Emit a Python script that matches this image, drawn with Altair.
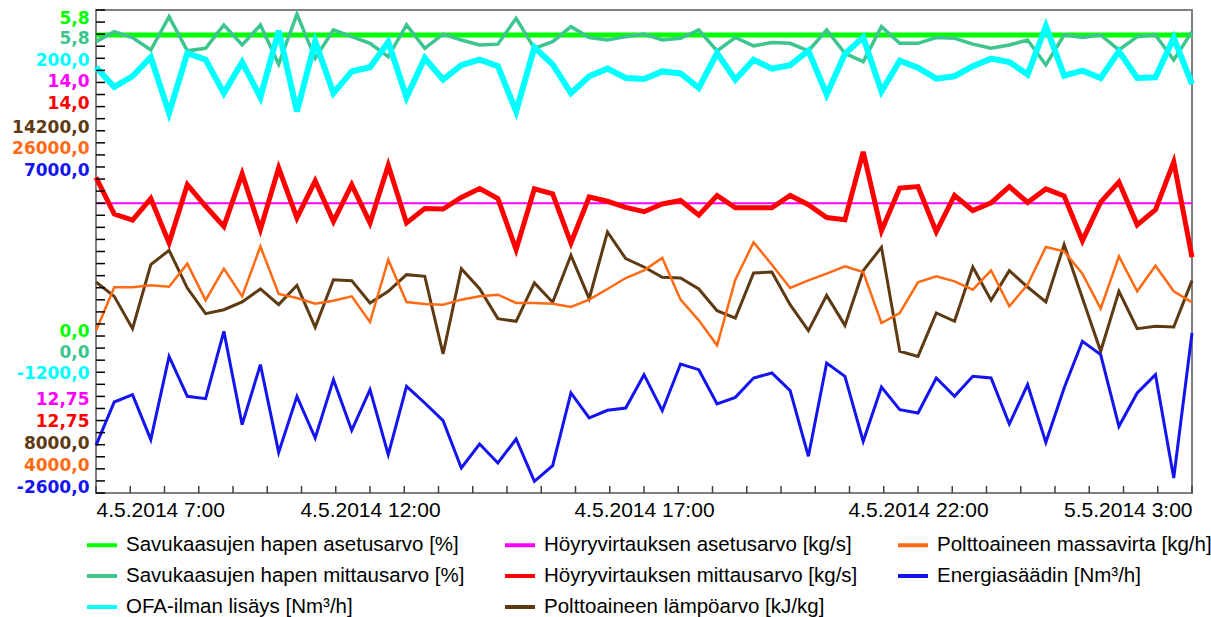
import altair as alt
import pandas as pd
from datetime import datetime, timedelta

# ---------------- data ----------------
START = datetime(2014, 5, 4, 7, 0)
END = datetime(2014, 5, 5, 3, 0)
N_POINTS = 61
STEP = timedelta(minutes=20)
TICK_STEP = timedelta(minutes=37, seconds=30)
N_TICKS = 33
N_Y_TICKS = 41

o2_setpoint = [5.5] * N_POINTS
o2_measured = [
    5.42, 5.54, 5.47, 5.32, 5.72, 5.31, 5.34, 5.62, 5.38, 5.62,
    5.15, 5.75, 5.22, 5.56, 5.48, 5.40, 5.24, 5.62, 5.34, 5.51,
    5.44, 5.38, 5.39, 5.70, 5.34, 5.42, 5.60, 5.47, 5.44, 5.48,
    5.51, 5.44, 5.46, 5.56, 5.31, 5.47, 5.37, 5.41, 5.40, 5.31,
    5.56, 5.28, 5.18, 5.60, 5.40, 5.40, 5.47, 5.46, 5.39, 5.34,
    5.38, 5.44, 5.14, 5.50, 5.47, 5.50, 5.32, 5.48, 5.50, 5.20,
    5.54]
ofa_air = [
    34, -23, 8, 63, -99, 75, 56, -41, 49, -53,
    140, -94, 109, -41, 22, 34, 107, -53, 61, -2,
    40, 56, 37, -94, 92, 42, -41, 8, 30, 3,
    0, 22, 16, -26, 75, -2, 56, 30, 40, 82,
    -45, 73, 121, -36, 53, 33, 1, 8, 37, 59,
    49, 13, 153, 10, 24, 3, 80, 3, 5, 119,
    -15]
steam_setpoint = [13.5] * N_POINTS
steam_measured = [
    13.567, 13.472, 13.456, 13.512, 13.397, 13.548, 13.492, 13.440, 13.576, 13.432,
    13.591, 13.462, 13.558, 13.453, 13.548, 13.449, 13.598, 13.449, 13.486, 13.485,
    13.515, 13.538, 13.512, 13.380, 13.537, 13.524, 13.397, 13.516, 13.505, 13.489,
    13.478, 13.498, 13.507, 13.469, 13.520, 13.488, 13.488, 13.488, 13.520, 13.496,
    13.463, 13.457, 13.633, 13.429, 13.539, 13.543, 13.426, 13.520, 13.481, 13.501,
    13.543, 13.502, 13.537, 13.519, 13.403, 13.503, 13.555, 13.444, 13.483, 13.607,
    13.360]
fuel_heat = [
    10708, 10524, 10109, 10931, 11115, 10631, 10302, 10353, 10452, 10619,
    10418, 10666, 10127, 10738, 10726, 10439, 10589, 10803, 10781, 9784,
    10880, 10623, 10238, 10204, 10696, 10448, 11051, 10495, 11350, 11008,
    10901, 10768, 10760, 10619, 10341, 10246, 10824, 10837, 10418, 10084,
    10537, 10152, 10854, 11154, 9819, 9754, 10311, 10204, 10901, 10473,
    10854, 10644, 10452, 11188, 10503, 9819, 10589, 10109, 10139, 10131,
    10726]
fuel_mass = [
    11394, 13368, 13368, 13459, 13398, 14446, 12776, 14218, 12958, 15235,
    13064, 12882, 12624, 12761, 12958, 11789, 14628, 12700, 12609, 12578,
    12806, 12958, 13034, 12654, 12654, 12624, 12472, 12806, 13292, 13793,
    14142, 14704, 12806, 11865, 10726, 13717, 15418, 14400, 13338, 13687,
    13990, 14324, 14066, 11743, 12199, 13596, 13869, 13641, 13262, 14142,
    12502, 13489, 15205, 15008, 13990, 12396, 14780, 13186, 14355, 13186,
    12685]
energy = [
    -1653, -791, -646, -1540, 116, -679, -725, 613, -1242, -49,
    -1792, -679, -1507, -347, -1354, -546, -1838, -480, -811, -1162,
    -2103, -1626, -2004, -1527, -2368, -2057, -612, -1109, -957, -911,
    -248, -964, -36, -149, -831, -699, -314, -215, -566, -1871,
    -16, -281, -1573, -493, -944, -1010, -314, -679, -281, -314,
    -1229, -447, -1593, -513, 415, 150, -1275, -612, -248, -2302,
    580]

names = [
    "Savukaasujen hapen asetusarvo [%]",
    "Savukaasujen hapen mittausarvo [%]",
    "OFA-ilman lisäys [Nm³/h]",
    "Höyryvirtauksen asetusarvo [kg/s]",
    "Höyryvirtauksen mittausarvo [kg/s]",
    "Polttoaineen lämpöarvo [kJ/kg]",
    "Polttoaineen massavirta [kg/h]",
    "Energiasäädin [Nm³/h]",
]
values = [o2_setpoint, o2_measured, ofa_air, steam_setpoint,
          steam_measured, fuel_heat, fuel_mass, energy]
axis_min = [0.0, 0.0, -1200.0, 12.75, 12.75, 8000.0, 4000.0, -2600.0]
axis_max = [5.8, 5.8, 200.0, 14.0, 14.0, 14200.0, 26000.0, 7000.0]
top_labels = ["5,8", "5,8", "200,0", "14,0", "14,0", "14200,0", "26000,0", "7000,0"]
bottom_labels = ["0,0", "0,0", "-1200,0", "12,75", "12,75", "8000,0", "4000,0", "-2600,0"]
colors = ["#00FF00", "#3CC68E", "#00FFFF", "#FF00FF",
          "#FF0000", "#5E3A12", "#FF6A13", "#1414F0"]
widths = [5, 3.5, 6, 2, 5, 3, 2.5, 3]
top_offsets = [8, 28, 50, 71, 93, 117, 138, 160]
bottom_offsets = [-162, -141, -120, -94, -72, -50, -28, -6]

PLOT_W = 1096
PLOT_H = 483
fmt = "%Y-%m-%dT%H:%M:%S"
rows = []
for s, vals in enumerate(values):
    for i, v in enumerate(vals):
        rows.append({"time": (START + i * STEP).strftime(fmt), "series": names[s], "value": v})
df = pd.DataFrame(rows)

x_tick_df = pd.DataFrame({"t": [(START + k * TICK_STEP).strftime(fmt) for k in range(N_TICKS)]})
y_tick_df = pd.DataFrame({"k": list(range(N_Y_TICKS))})


def dt(d):
    return alt.DateTime(year=d.year, month=d.month, date=d.day,
                        hours=d.hour, minutes=d.minute, seconds=d.second)


x_ticks = [dt(START + k * TICK_STEP) for k in range(N_TICKS)]
x_scale = alt.Scale(domain=[dt(START), dt(END)])

x_label_axis = alt.Axis(
    title=None, grid=False, domain=False, ticks=False, values=x_ticks,
    labelExpr="minutes(datum.value) == 0 && seconds(datum.value) == 0 ? "
              "timeFormat(datum.value, '%-d.%-m.%Y %-H:%M') : ''",
    labelFlush=True, labelOverlap=False,
    labelFont="Liberation Sans", labelFontSize=21, labelColor="#000000",
    labelPadding=6,
)

color_enc = alt.Color(
    "series:N",
    scale=alt.Scale(domain=names, range=colors),
    legend=alt.Legend(
        title=None, orient="none", legendX=-11, legendY=518,
        columns=3, symbolType="stroke", symbolSize=900, symbolStrokeWidth=4,
        labelFont="Liberation Sans", labelFontSize=20.5, labelColor="#000000",
        labelOffset=7, columnPadding=32, rowPadding=3, labelLimit=0, padding=0,
    ),
)


def y_axis(s):
    lo, hi = axis_min[s], axis_max[s]
    eps = (hi - lo) * 1e-4
    return alt.Axis(
        orient="left", title=None, grid=False, domain=False, ticks=False,
        values=[lo, hi],
        labelExpr=f"datum.value >= {hi - eps} ? '{top_labels[s]}' : "
                  f"(datum.value <= {lo + eps} ? '{bottom_labels[s]}' : '')",
        labelColor=colors[s], labelFont="DejaVu Sans", labelFontWeight="bold",
        labelFontSize=17, labelOverlap=False,
        labelOffset={"condition": {"test": f"datum.value > {(lo + hi) / 2}",
                                   "value": top_offsets[s]},
                     "value": bottom_offsets[s]},
        labelPadding=7,
    )


def y_scale(s):
    return alt.Scale(domain=[axis_min[s], axis_max[s]], nice=False, zero=False)


layers = []
for s in range(len(names)):
    line = (
        alt.Chart()
        .mark_line(strokeWidth=widths[s])
        .encode(
            x=alt.X("time:T", scale=x_scale, axis=x_label_axis),
            y=alt.Y("value:Q", scale=y_scale(s), axis=y_axis(s)),
            color=color_enc,
        )
        .transform_filter(alt.datum.series == names[s])
    )
    layers.append(line)

# inward tick marks along the bottom and left frame edges
x_tick_layer = (
    alt.Chart(x_tick_df)
    .mark_rule(strokeWidth=1.5)
    .encode(
        x=alt.X("t:T", scale=x_scale, axis=x_label_axis),
        y=alt.value(PLOT_H - 7), y2=alt.value(PLOT_H),
        color=alt.value("#404040"),
    )
)
y_tick_layer = (
    alt.Chart(y_tick_df)
    .mark_rule(strokeWidth=1.5)
    .encode(
        y=alt.Y("k:Q", scale=alt.Scale(domain=[0, N_Y_TICKS - 1], nice=False, zero=False), axis=None),
        x=alt.value(0), x2=alt.value(9),
        color=alt.value("#000000"),
    )
)
layers += [x_tick_layer, y_tick_layer]

chart = (
    alt.layer(*layers, data=df)
    .resolve_scale(y="independent")
    .properties(
        width=PLOT_W, height=PLOT_H,
        autosize=alt.AutoSizeParams(type="none"),
        padding={"left": 96, "top": 10, "right": 19, "bottom": 124},
    )
    .configure_view(stroke="#808080", strokeWidth=2)
)

chart.save("out.html", embed_options={"renderer": "svg", "actions": False})
